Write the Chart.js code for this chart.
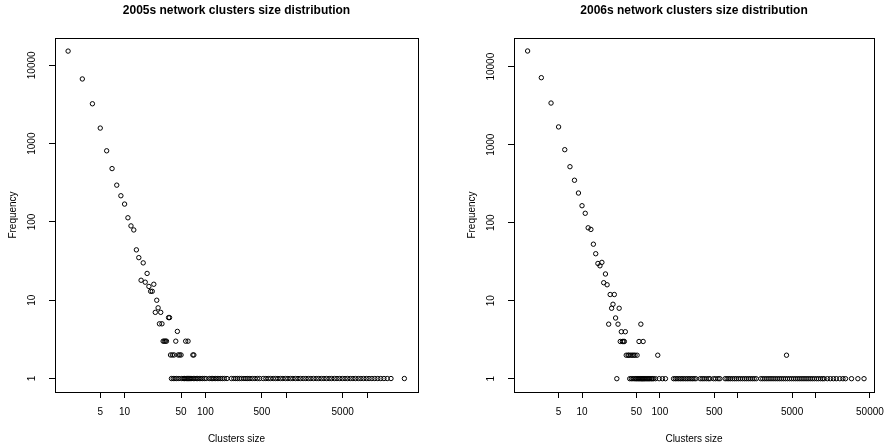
<!DOCTYPE html>
<html>
<head>
<meta charset="utf-8">
<title>Clusters size distribution</title>
<script src="https://cdn.jsdelivr.net/npm/chart.js@4.4.1/dist/chart.umd.min.js"></script>
<style>
	html, body { margin: 0; padding: 0; background: #fff; }
	.row { display: flex; width: 892px; height: 448px; }
	.panel { position: relative; width: 446px; height: 448px; }
</style>
</head>
<body>
<div class="row">
	<div class="panel"><canvas id="chart2005"></canvas></div>
	<div class="panel"><canvas id="chart2006"></canvas></div>
</div>
<script>
// 2005: cluster sizes seen more than once, with their frequency
const sizes2005 = [
	2, 3, 4, 5, 6, 7, 8, 9, 10, 11, 12, 13, 14, 15, 16, 17, 18, 19, 20,
	21, 22, 23, 24, 25, 26, 27, 28, 29, 30, 31, 32, 33, 35, 36, 37, 39,
	41, 43, 45, 46, 48, 50, 57, 61, 70, 72,
];
const freq2005 = [
	15200, 6700, 3230, 1580, 810, 480, 295, 216, 169, 113, 89, 79, 44, 35, 18, 30, 17, 22, 15,
	13, 13, 16, 7, 10, 8, 5, 7, 5, 3, 3, 3, 3, 6, 6, 2, 2,
	2, 3, 4, 2, 2, 2, 3, 3, 2, 2,
];
// 2005: cluster sizes with frequency 1
const once2005 = [
	38, 40, 42, 44, 47, 51, 53, 55, 56, 58, 60, 62, 64, 66, 68, 71, 74, 77, 80, 84,
	88, 92, 97, 102, 112, 118, 123, 128, 134, 140, 147, 155, 163, 172, 185, 210,
	225, 238, 250, 265, 280, 300, 318, 335, 355, 380, 410, 440, 470, 520, 560, 600,
	640, 690, 740, 790, 850, 910, 980, 1050, 1130, 1210, 1300, 1400, 1500, 1620,
	1750, 1880, 2020, 2180, 2350, 2530, 2720, 2930, 3150, 3400, 3650, 3950, 4250,
	4600, 4950, 5350, 5750, 6200, 6700, 7200, 7800, 8400, 9100, 9800, 10600, 11500,
	12500, 13600, 14800, 16200, 17800, 19800, 29000,
];

// 2006
const sizes2006 = [
	2, 3, 4, 5, 6, 7, 8, 9, 10, 11, 12, 13, 14, 15, 16, 17, 18, 19, 20,
	21, 22, 23, 24, 25, 26, 27, 29, 30, 31, 32, 33, 34, 35, 36, 37, 39,
	40, 42, 44, 46, 48, 51, 54, 57, 61, 94, 4240,
];
const freq2006 = [
	15900, 7230, 3420, 1690, 863, 522, 350, 240, 165, 132, 86, 82, 53, 40, 30, 28, 31, 17, 22,
	16, 5, 12, 8, 9, 12, 6, 5, 8, 3, 4, 3, 3, 3, 4, 2, 2,
	2, 2, 2, 2, 2, 2, 3, 5, 3, 2, 2,
];
const once2006 = [
	28, 41, 43, 45, 47, 49, 50, 52, 53, 55, 56, 58, 59, 60, 62, 63, 65, 67, 69, 71,
	73, 75, 78, 80, 83, 88, 98, 108, 118, 150, 158, 166, 175, 184, 193, 203, 214,
	225, 237, 250, 262, 275, 290, 330, 350, 370, 395, 420, 440, 490, 520, 560, 590,
	690, 730, 770, 810, 860, 910, 960, 1020, 1080, 1150, 1220, 1290, 1370, 1450,
	1540, 1630, 1730, 1980, 2100, 2230, 2370, 2520, 2680, 2850, 3030, 3220, 3420,
	3630, 3860, 4100, 4360, 4640, 4930, 5240, 5570, 5920, 6290, 6690, 7110, 7560,
	8030, 8540, 9080, 9650, 10300, 10900, 11600, 12300, 12900, 14200, 15500, 17000,
	18500, 20500, 22500, 24300, 29000, 35000, 42000,
];

// axis ticks (R drops labels that would collide)
const xTicks2005 = [5, 10, 50, 100, 500, 1000, 5000, 10000];
const xLabels2005 = ['5', '10', '50', '100', '500', '', '5000', ''];
const xTicks2006 = [5, 10, 50, 100, 500, 1000, 5000, 10000, 50000];
const xLabels2006 = ['5', '10', '50', '100', '500', '', '5000', '', '50000'];
const yTicks = [1, 10, 100, 1000, 10000];
const yLabels = ['1', '10', '100', '1000', '10000'];

const FONT = '"Liberation Sans", Arial, Helvetica, sans-serif';

// draws the R-style box, titles and rotated y tick labels
const rDecor = {
	id: 'rDecor',
	afterDraw(chart, args, opts) {
		const { ctx, chartArea: a } = chart;
		const yScale = chart.scales.y;
		const cx = (a.left + a.right) / 2;
		ctx.save();
		ctx.strokeStyle = '#000';
		ctx.lineWidth = 1;
		ctx.strokeRect(Math.round(a.left) + 0.5, Math.round(a.top) + 0.5,
			Math.round(a.right - a.left), Math.round(a.bottom - a.top));

		ctx.fillStyle = '#000';
		ctx.textAlign = 'center';
		ctx.textBaseline = 'middle';

		ctx.font = 'bold 12px ' + FONT;
		ctx.fillText(opts.title, cx, 11);

		ctx.font = '10px ' + FONT;
		ctx.fillText('Clusters size', cx, 439);

		yScale.ticks.forEach((t, i) => {
			const y = yScale.getPixelForValue(t.value);
			ctx.save();
			ctx.translate(a.left - opts.labelGap, y);
			ctx.rotate(-Math.PI / 2);
			ctx.fillText(yLabels[i], 0, 0);
			ctx.restore();
		});

		ctx.save();
		ctx.translate(a.left - opts.titleGap, (a.top + a.bottom) / 2);
		ctx.rotate(-Math.PI / 2);
		ctx.fillText('Frequency', 0, 0);
		ctx.restore();
		ctx.restore();
	},
};

function makeChart(id, cfg) {
	const points = cfg.sizes.map((s, i) => ({ x: s, y: cfg.freq[i] }))
		.concat(cfg.once.map((s) => ({ x: s, y: 1 })));

	const axisGrid = {
		display: true,
		drawOnChartArea: false,
		drawTicks: true,
		tickLength: 6,
		color: '#000',
		lineWidth: 1,
	};

	return new Chart(document.getElementById(id), {
		type: 'scatter',
		data: {
			datasets: [{
				data: points,
				pointStyle: 'circle',
				pointRadius: 2.2,
				borderWidth: 1,
				borderColor: '#000',
				backgroundColor: 'rgba(0,0,0,0)',
			}],
		},
		options: {
			responsive: true,
			maintainAspectRatio: false,
			animation: false,
			events: [],
			layout: {
				padding: { left: 0, right: cfg.padRight, top: 38, bottom: 0 },
			},
			scales: {
				x: {
					type: 'logarithmic',
					min: cfg.xMin,
					max: cfg.xMax,
					grid: axisGrid,
					border: { display: true, color: '#000', width: 1 },
					ticks: {
						autoSkip: false,
						maxRotation: 0,
						padding: 8,
						color: '#000',
						font: { family: FONT, size: 10 },
						callback: (v, i) => cfg.xLabels[i],
					},
					afterBuildTicks: (s) => {
						s.ticks = cfg.xTicks.map((v) => ({ value: v }));
					},
					afterFit: (s) => {
						s.height = 56;
					},
				},
				y: {
					type: 'logarithmic',
					min: cfg.yMin,
					max: cfg.yMax,
					grid: axisGrid,
					border: { display: true, color: '#000', width: 1 },
					ticks: { display: false },
					afterBuildTicks: (s) => {
						s.ticks = yTicks.map((v) => ({ value: v }));
					},
					afterFit: (s) => {
						s.width = cfg.boxLeft;
					},
				},
			},
			plugins: {
				legend: { display: false },
				tooltip: { enabled: false },
				title: { display: false },
				rDecor: {
					title: cfg.title,
					labelGap: cfg.labelGap,
					titleGap: cfg.titleGap,
				},
			},
		},
		plugins: [rDecor],
	});
}

document.addEventListener('DOMContentLoaded', () => {
	makeChart('chart2005', {
		title: '2005s network clusters size distribution',
		sizes: sizes2005,
		freq: freq2005,
		once: once2005,
		xTicks: xTicks2005,
		xLabels: xLabels2005,
		xMin: 1.377,
		xMax: 42760,
		yMin: 0.673,
		yMax: 22340,
		boxLeft: 55,
		padRight: 28,
		labelGap: 23,
		titleGap: 42,
	});
	makeChart('chart2006', {
		title: '2006s network clusters size distribution',
		sizes: sizes2006,
		freq: freq2006,
		once: once2006,
		xTicks: xTicks2006,
		xLabels: xLabels2006,
		xMin: 1.337,
		xMax: 56500,
		yMin: 0.675,
		yMax: 23330,
		boxLeft: 68,
		padRight: 15,
		labelGap: 23,
		titleGap: 42,
	});
});
</script>
</body>
</html>
